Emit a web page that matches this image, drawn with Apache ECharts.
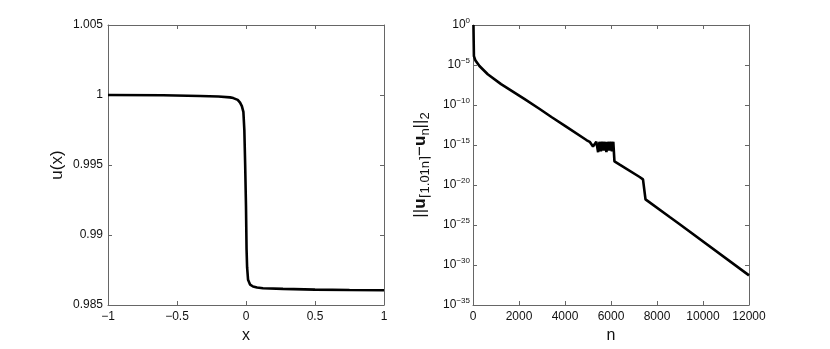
<!DOCTYPE html>
<html>
<head>
<meta charset="utf-8">
<script src="https://cdn.jsdelivr.net/npm/echarts@6/dist/echarts.min.js"></script>
<style>
  html, body { margin: 0; padding: 0; background: #fff; }
  #chart { width: 830px; height: 349px; }
</style>
</head>
<body>
<div id="chart"></div>
<script>
// ── Data ─────────────────────────────────────────────────────

// left panel: u(x) against x
const shockX = [-1, -0.6, -0.333, -0.2, -0.116, -0.092, -0.06, -0.043, -0.03, -0.019,
                -0.012, -0.006, 0.0, 0.004, 0.008, 0.015, 0.03, 0.051, 0.08, 0.123,
                0.268, 0.5, 0.75, 1];
const shockU = [1.0000, 0.99998, 0.99993, 0.99989, 0.99983, 0.99978, 0.99965, 0.99945, 0.9992, 0.9988,
                0.9975, 0.995, 0.992, 0.989, 0.9877, 0.9868, 0.98645, 0.98632, 0.98625, 0.9862,
                0.98615, 0.9861, 0.98607, 0.98605];

// right panel: ||u_ceil(1.01n) - u_n||_2 against n, read as decimal exponents
// (ECharts' log scale breaks with min 1e-35, so the axis runs on the exponent)
const errN = [20, 30, 40, 100, 280, 640, 1220, 2230, 2900, 3410, 4000, 4930,
              5074, 5217, 5362, 5380, 5440, 5500, 5560, 5620, 5680, 5740, 5800, 5860,
              5920, 5980, 6040, 6100, 6140, 6150, 6378, 7246, 7391, 7420, 7500,
              8552, 8987, 12000];
const errExp = [0, -2, -3.9, -4.4, -5.13, -6.16, -7.39, -9.24, -10.5, -11.5, -12.6, -14.38,
                -14.6, -15.2, -14.6, -14.6, -15.9, -14.6, -15.8, -14.6, -15.7, -14.6, -15.9, -14.6,
                -15.7, -14.6, -15.8, -14.6, -14.6, -17.05, -17.46, -19.0, -19.3, -19.3, -21.8,
                -24.0, -24.9, -31.3];

const leftXTicks  = { min: -1, max: 1, interval: 0.5 };
const leftYTicks  = { min: 0.985, max: 1.005, interval: 0.005 };
const rightXTicks = { min: 0, max: 12000, interval: 2000 };
const rightYTicks = { min: -35, max: 0, interval: 5 };

// ── Styling helpers ──────────────────────────────────────────

const FONT = "'Liberation Sans', Arial, Helvetica, sans-serif";
const AXIS_COLOR = '#666';

const minus = v => String(v).replace('-', '\u2212');

function boxAxis(extra) {
  return Object.assign({
    type: 'value',
    axisLine:  { show: true, onZero: false, lineStyle: { color: AXIS_COLOR, width: 1 } },
    axisTick:  { show: true, inside: true, length: 4, lineStyle: { color: AXIS_COLOR } },
    splitLine: { show: false },
    axisLabel: { color: '#111', fontFamily: FONT, fontSize: 12 },
    nameTextStyle: { color: '#111', fontFamily: FONT, fontSize: 16 },
  }, extra);
}

// mirrored axis (top / right) — ticks only
function mirrorAxis(extra) {
  return boxAxis(Object.assign({ axisLabel: { show: false } }, extra));
}

// 10^e label with a raised exponent
function powLabel(e) {
  e = Math.round(e);
  return '{b|10}{s|' + (e < 0 ? '\u2212' + (-e) : e) + '}';
}

const labelRich = {
  b: { fontFamily: FONT, fontSize: 12, color: '#111' },
  s: { fontFamily: FONT, fontSize: 8, color: '#111', padding: [0, 0, 9, 0] },
};

const nameRich = {
  n:   { fontFamily: FONT, fontSize: 17, color: '#111' },
  bu:  { fontFamily: FONT, fontSize: 17, color: '#111', fontWeight: 'bold' },
  sub: { fontFamily: FONT, fontSize: 13, color: '#111', padding: [11, 0, 0, 0] },
};

const leftData  = shockX.map((x, i) => [x, shockU[i]]);
const rightData = errN.map((n, i) => [n, errExp[i]]);

// ── Chart ────────────────────────────────────────────────────

const chart = echarts.init(document.getElementById('chart'), null, { renderer: 'canvas' });

chart.setOption({
  backgroundColor: '#fff',
  animation: false,
  grid: [
    { left: 108, top: 25, width: 276, height: 284 },
    { left: 473, top: 25, width: 276, height: 284 },
  ],
  xAxis: [
    boxAxis(Object.assign({ gridIndex: 0, name: 'x', nameLocation: 'middle', nameGap: 23,
      axisLabel: { color: '#111', fontFamily: FONT, fontSize: 12, margin: 6, formatter: minus } }, leftXTicks)),
    mirrorAxis(Object.assign({ gridIndex: 0, position: 'top' }, leftXTicks)),
    boxAxis(Object.assign({ gridIndex: 1, name: 'n', nameLocation: 'middle', nameGap: 23,
      axisLabel: { color: '#111', fontFamily: FONT, fontSize: 12, margin: 6, formatter: v => String(v) } }, rightXTicks)),
    mirrorAxis(Object.assign({ gridIndex: 1, position: 'top' }, rightXTicks)),
  ],
  yAxis: [
    boxAxis(Object.assign({ gridIndex: 0, name: 'u(x)', nameLocation: 'middle', nameGap: 42,
      nameTextStyle: { color: '#111', fontFamily: FONT, fontSize: 17 },
      axisLabel: { color: '#111', fontFamily: FONT, fontSize: 12, margin: 5 } }, leftYTicks)),
    mirrorAxis(Object.assign({ gridIndex: 0, position: 'right' }, leftYTicks)),
    boxAxis(Object.assign({ gridIndex: 1, nameLocation: 'middle', nameGap: 41,
      name: '{n|||}{bu|u}{sub|\u23081.01n\u2309}{n|\u2212}{bu|u}{sub|n}{n|||}{sub|2}',
      nameTextStyle: { rich: nameRich },
      axisLabel: { formatter: powLabel, rich: labelRich, margin: 3 } }, rightYTicks)),
    mirrorAxis(Object.assign({ gridIndex: 1, position: 'right' }, rightYTicks)),
  ],
  series: [
    {
      type: 'line', xAxisIndex: 0, yAxisIndex: 0, data: leftData,
      showSymbol: false, symbol: 'none', smooth: false,
      lineStyle: { color: '#000', width: 2.6 },
    },
    {
      type: 'line', xAxisIndex: 2, yAxisIndex: 2, data: rightData,
      showSymbol: false, symbol: 'none', smooth: false,
      lineStyle: { color: '#000', width: 2.6 },
    },
  ],
});
</script>
</body>
</html>
